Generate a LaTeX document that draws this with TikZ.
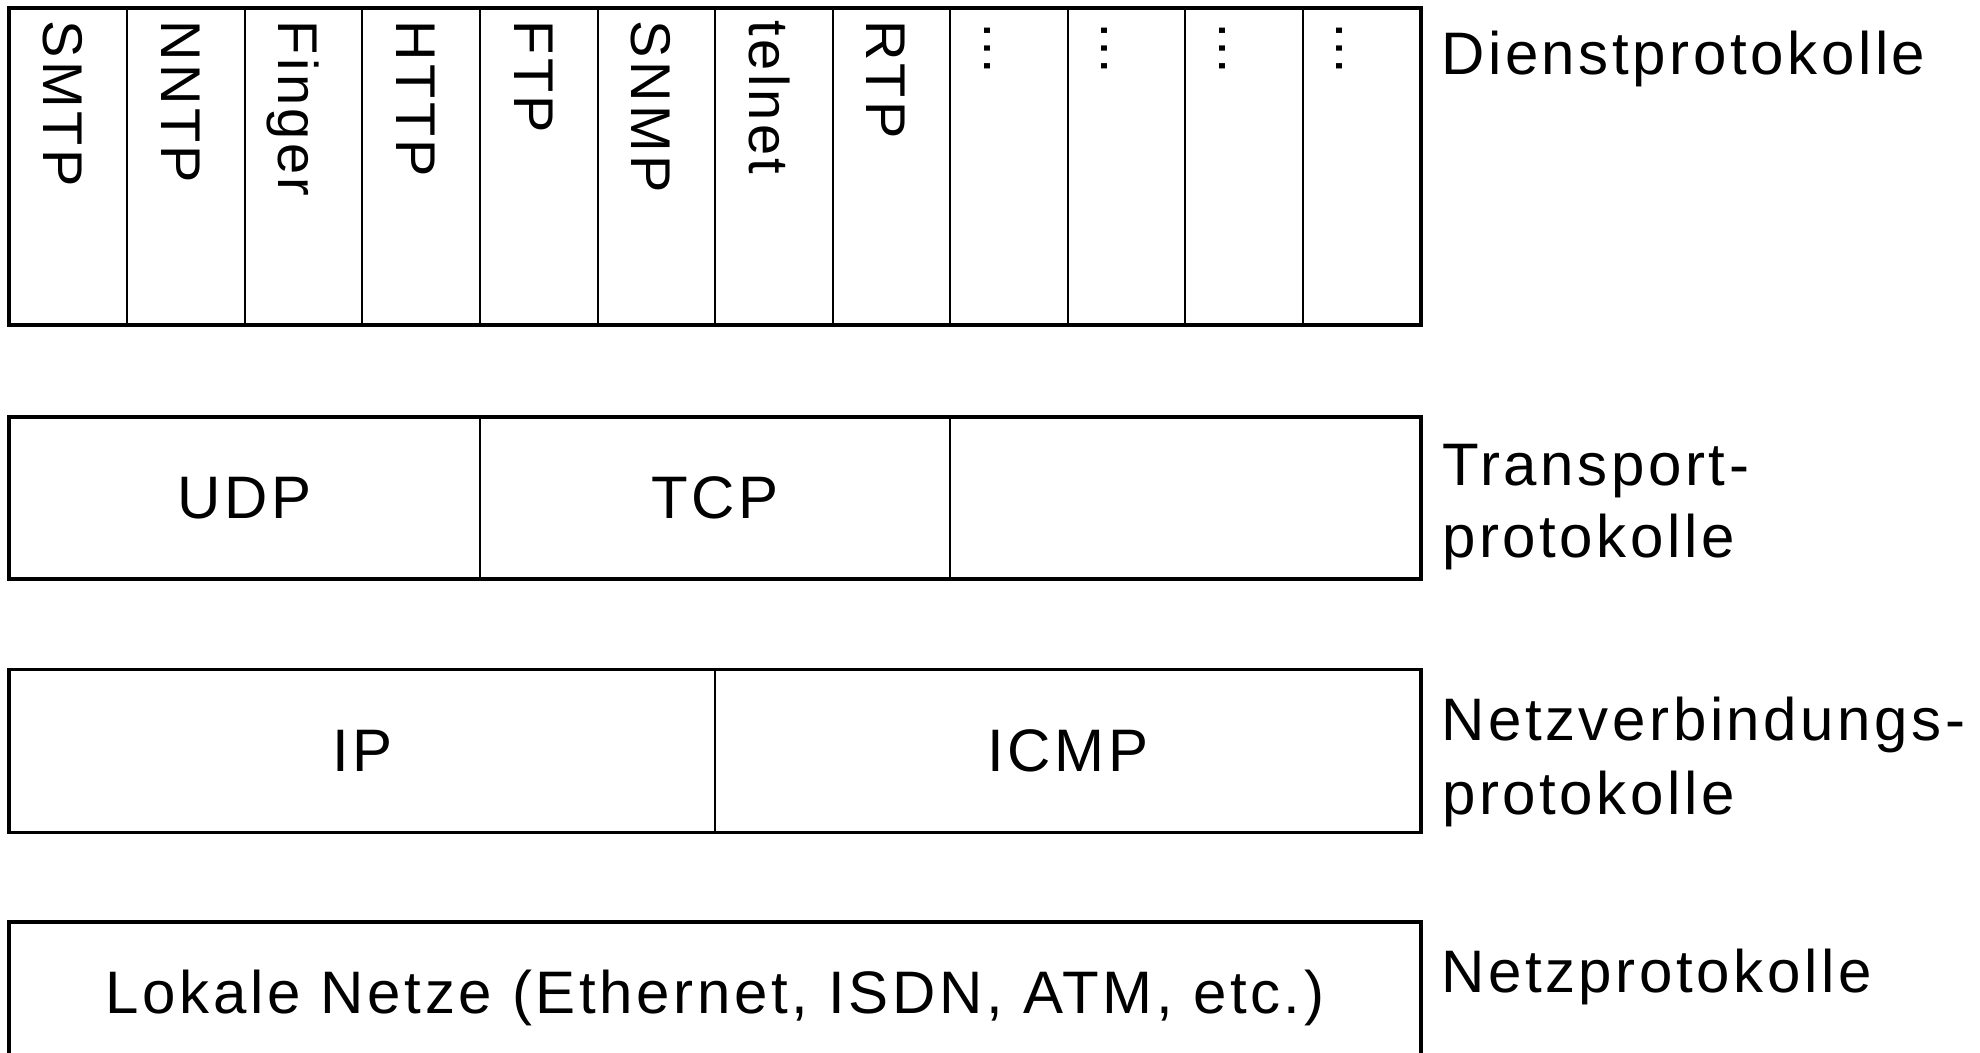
\documentclass[tikz,border=0pt]{standalone}
\usepackage{fontspec}
\setmainfont{Liberation Sans}[LetterSpace=6]
\begin{document}
\tikzset{
  cellbox/.style={draw=black, line width=2pt, inner sep=0pt, anchor=north west,
                  font=\fontsize{60}{72}\selectfont},
  frame/.style={draw=black, line width=3pt},
  lbl/.style={inner sep=0pt, font=\fontsize{60}{72}\selectfont},
  vlbl/.style={inner sep=0pt, font=\fontsize{56}{67}\selectfont, rotate=-90, anchor=base west},
}
\begin{tikzpicture}[x=1pt,y=-1pt]
\useasboundingbox (0,0) rectangle (1980,1052);
\fill[white] (0,0) rectangle (1980,1052);
\clip (0,0) rectangle (1980,1052);
% Dienstprotokolle
\foreach \i in {0,...,11}
  \node[cellbox, minimum width=117.55pt, minimum height=315.7pt] (d\i) at ({8.8+117.55*\i},7.6) {};
\foreach \i/\t in {0/SMTP,1/NNTP,2/Finger,3/HTTP,4/FTP,5/SNMP,6/telnet,7/RTP,8/…,9/…,10/…,11/…}
  \node[vlbl] (t\i) at ([shift={(35pt,-13pt)}]d\i.north west) {\t};
\draw[frame] (d0.north west) rectangle (d11.south east);
% Transport
\node[cellbox, minimum width=469.9pt, minimum height=160.4pt] (udp) at (8.8,416.7) {UDP};
\node[cellbox, minimum width=469.9pt, minimum height=160.4pt] (tcp) at (478.7,416.7) {TCP};
\node[cellbox, minimum width=470.8pt, minimum height=160.4pt] (tr3) at (948.6,416.7) {};
\draw[frame] (udp.north west) rectangle (tr3.south east);
% Netzverbindung
\node[cellbox, minimum width=705.3pt, minimum height=161.6pt] (ip) at (8.8,669.3) {IP};
\node[cellbox, minimum width=705.3pt, minimum height=161.6pt] (icmp) at (714.1,669.3) {ICMP};
\draw[frame] (ip.north west) rectangle (icmp.south east);
% Netz
\node[cellbox, minimum width=1410.6pt, minimum height=160pt] (lan) at (8.8,921.8) {};
\draw[frame] (lan.north west) rectangle (lan.south east);
\node[lbl, anchor=base] (lantext) at ([yshift=-91.2pt]lan.north) {Lokale Netze (Ethernet, ISDN, ATM, etc.)};
% Right labels
\node[lbl, anchor=base west] (dienst) at (1441,74) {Dienstprotokolle};
\node[lbl, anchor=base west] (transA) at (1442,485) {Transport-};
\node[lbl, anchor=base west] (transB) at (1442,557) {protokolle};
\node[lbl, anchor=base west] (nvA) at (1441,740) {Netzverbindungs-};
\node[lbl, anchor=base west] (nvB) at (1442,814) {protokolle};
\node[lbl, anchor=base west] (netz) at (1441,992) {Netzprotokolle};
\end{tikzpicture}
\end{document}
